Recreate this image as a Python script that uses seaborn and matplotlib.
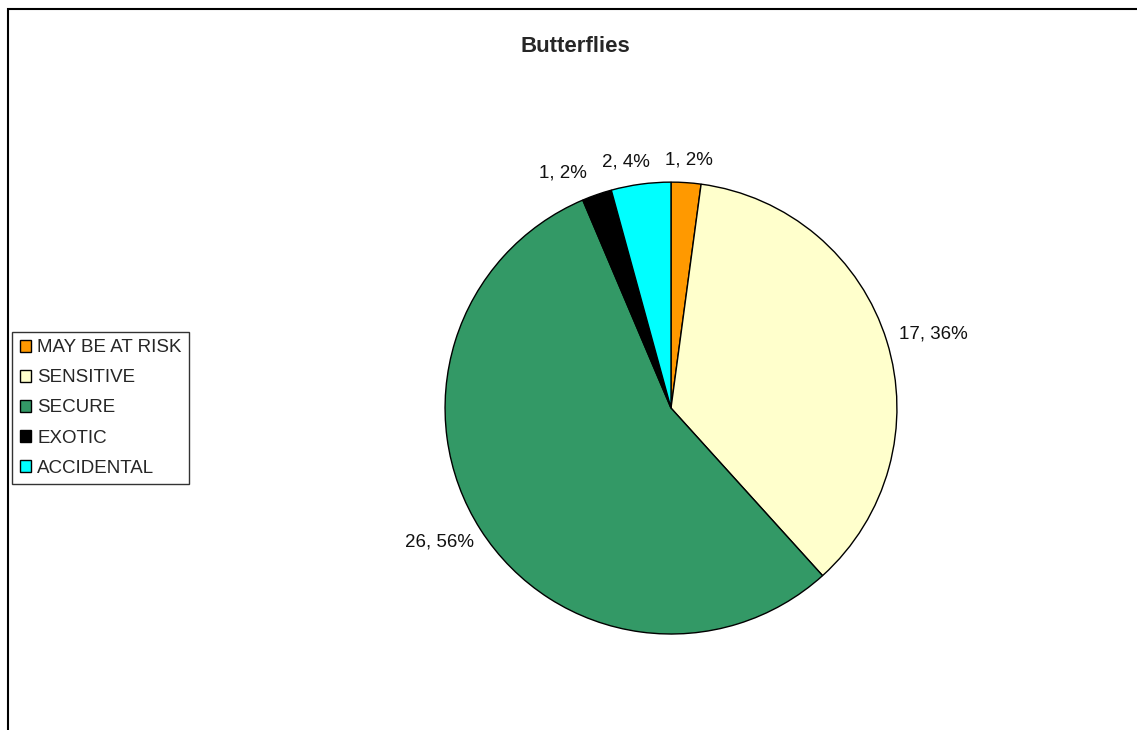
import matplotlib
matplotlib.use("Agg")
import matplotlib.pyplot as plt
from matplotlib.patches import Patch, Rectangle
import numpy as np
import seaborn as sns

# datos del grafico
categorias = ["MAY BE AT RISK", "SENSITIVE", "SECURE", "EXOTIC", "ACCIDENTAL"]
valores = [1, 17, 26, 1, 2]
colores_hex = ["#FF9900", "#FFFFCC", "#339966", "#000000", "#00FFFF"]

sns.set_theme(style="white")
plt.rcParams["font.family"] = ["Liberation Sans", "DejaVu Sans"]
colores = sns.color_palette(colores_hex)

# porcentajes redondeados para que sumen 100 (como Excel)
total = sum(valores)
crudo = np.array(valores) * 100 / total
pct = np.floor(crudo).astype(int)
faltan = 100 - pct.sum()
for i in np.argsort(-(crudo - pct))[:faltan]:
    pct[i] += 1
etiquetas = [f"{v}, {p}%" for v, p in zip(valores, pct)]

fig = plt.figure(figsize=(11.37, 7.3), dpi=100)
ax = fig.add_axes([0.3914, 0.1315, 0.3975, 0.619])

wedges, textos = ax.pie(
    valores, colors=colores, startangle=90, counterclock=False,
    labels=etiquetas, labeldistance=1.1,
    wedgeprops={"edgecolor": "black", "linewidth": 1},
    textprops={"fontsize": 13.5, "color": "#111111"},
)
ax.set_xlim(-1, 1)
ax.set_ylim(-1, 1)
ax.set_aspect("equal")
ax.axis("off")

# colocar etiquetas fuera del borde, segun su tamano
fig.canvas.draw()
renderer = fig.canvas.get_renderer()
px = ax.transData.transform((1, 0))[0] - ax.transData.transform((0, 0))[0]
hueco = 14 / px
cajas = []
for w, t in zip(wedges, textos):
    theta = np.deg2rad((w.theta1 + w.theta2) / 2)
    bb = t.get_window_extent(renderer)
    ancho, alto = bb.width / px, bb.height / px
    x = (1 + hueco + ancho / 2) * np.cos(theta)
    y = (1 + hueco + alto / 2) * np.sin(theta)
    t.set_ha("center")
    t.set_va("center")
    cajas.append([x, y, ancho, alto, t])

# separar etiquetas de arriba que quedan muy juntas (de derecha a izquierda)
sep = 15 / px
arriba = sorted([c for c in cajas if c[1] > 0.8], key=lambda c: -c[0])
for der, izq in zip(arriba[:-1], arriba[1:]):
    limite = der[0] - der[2] / 2 - sep
    if izq[0] + izq[2] / 2 > limite:
        izq[0] = limite - izq[2] / 2
for x, y, ancho, alto, t in cajas:
    t.set_position((x, y))

fig.text(575.5 / 1137, 1 - 47 / 730, "Butterflies", ha="center", va="center",
         fontsize=16, fontweight="bold")

# leyenda
handles = [Patch(facecolor=c, edgecolor="black", linewidth=1) for c in colores]
leg = fig.legend(handles, categorias, loc="center left",
                 bbox_to_anchor=(12 / 1137, 1 - 408 / 730),
                 fontsize=13.5, frameon=True, fancybox=False,
                 handlelength=0.6, handleheight=0.6, handletextpad=0.35,
                 labelspacing=0.7, borderpad=0.4, borderaxespad=0)
leg.get_frame().set_edgecolor("black")
leg.get_frame().set_linewidth(1)

# marco del area del grafico
fig.add_artist(Rectangle((8 / 1137, -0.2), 1.3, (1 - 9 / 730) + 0.2,
                         transform=fig.transFigure, fill=False,
                         edgecolor="black", linewidth=1.5, clip_on=False))

fig.savefig("out.png", dpi=100)
